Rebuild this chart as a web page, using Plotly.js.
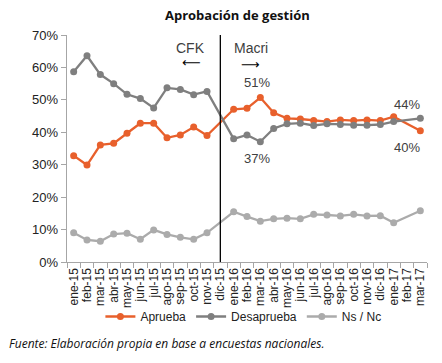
<!DOCTYPE html>
<html>
<head>
<meta charset="utf-8">
<script src="https://cdn.plot.ly/plotly-3.0.1.min.js"></script>
<style>html,body{margin:0;padding:0;background:#fff;}#chart{width:442px;height:363px;}</style>
</head>
<body>
<div id="chart"></div>
<script>
var categories = ["ene-15","feb-15","mar-15","abr-15","may-15","jun-15","jul-15","ago-15","sep-15","oct-15","nov-15","dic-15",
  "ene-16","feb-16","mar-16","abr-16","may-16","jun-16","jul-16","ago-16","sep-16","oct-16","nov-16","dic-16",
  "ene-17","feb-17","mar-17"];
var aprueba = [32.8,29.9,36.1,36.6,39.7,42.8,42.8,38.3,39.2,41.6,39.0,null,
  47.1,47.4,50.7,46.0,44.3,44.1,43.6,43.3,43.8,43.6,43.8,43.6,44.8,null,40.5];
var desaprueba = [58.7,63.6,57.8,55.0,51.7,50.4,47.5,53.7,53.2,51.6,52.6,null,
  38.0,39.2,37.1,41.2,42.6,42.8,42.1,42.6,42.4,42.2,42.2,42.4,43.3,null,44.3];
var nsnc = [9.0,6.8,6.4,8.6,8.9,7.0,9.9,8.5,7.6,7.0,9.0,null,
  15.5,14.0,12.6,13.3,13.5,13.3,14.7,14.5,14.2,14.7,14.2,14.3,12.1,null,15.8];
var yTickVals = [0,10,20,30,40,50,60,70];
var yTickText = ["0%","10%","20%","30%","40%","50%","60%","70%"];

function tr(name, y, color) {
  return {x: categories, y: y, name: name, type: 'scatter', mode: 'lines+markers',
    connectgaps: true, line: {color: color, width: 2.3}, marker: {color: color, size: 7}};
}
var data = [tr('Aprueba', aprueba, '#E8602C'), tr('Desaprueba', desaprueba, '#7F7F7F'), tr('Ns / Nc', nsnc, '#ABABAB')];

var txt = {family: 'Liberation Sans, Arial, sans-serif', size: 13, color: '#404040'};
function ann(px, py, text, font) {
  return {xref: 'paper', yref: 'paper', x: (px - 67) / 360, y: (262 - py) / 227, xanchor: 'center', yanchor: 'middle',
    text: text, showarrow: false, font: font};
}
var labFont = {family: 'Liberation Sans, Arial, sans-serif', size: 14, color: '#404040'};
var arrFont = {family: 'DejaVu Sans, sans-serif', size: 13, color: '#000'};
var layout = {
  width: 442, height: 363,
  margin: {l: 67, r: 15, t: 35, b: 101},
  paper_bgcolor: '#fff', plot_bgcolor: '#fff',
  showlegend: true,
  legend: {orientation: 'h', x: 0.49, xanchor: 'center', y: -0.24, yanchor: 'middle',
    bgcolor: 'rgba(0,0,0,0)',
    font: {family: 'Liberation Sans, Arial, sans-serif', size: 12, color: '#222'}, itemwidth: 30},
  title: {text: '<b>Aprobación de gestión</b>', x: 0.537, xanchor: 'center', y: 0.958, yanchor: 'middle',
    font: {family: 'Open Sans, sans-serif', size: 13, color: '#111'}},
  xaxis: {type: 'category', range: [-0.5, 26.5], showgrid: false, zeroline: false,
    tickmode: 'linear', tick0: 0, dtick: 1,
    showline: true, linecolor: '#A6A6A6', linewidth: 1.3,
    ticks: 'outside', tickson: 'boundaries', ticklen: 5, tickcolor: '#A6A6A6',
    tickangle: -90, tickfont: {family: 'Liberation Sans, Arial, sans-serif', size: 12, color: '#222'}},
  yaxis: {range: [0, 70], tickvals: yTickVals, ticktext: yTickText, showgrid: false, zeroline: false,
    showline: true, linecolor: '#A6A6A6', linewidth: 1.3, ticks: 'outside', ticklen: 5, tickcolor: '#A6A6A6',
    tickfont: {family: 'Liberation Sans, Arial, sans-serif', size: 13, color: '#222'}},
  shapes: [{type: 'line', xref: 'x', yref: 'y', x0: 11, x1: 11, y0: 0, y1: 70.6,
    line: {color: '#000', width: 1.3}}],
  annotations: [
    ann(190, 48, 'CFK', labFont),
    ann(191, 63, '⟵', arrFont),
    ann(251, 48, 'Macri', labFont),
    ann(250, 64, '⟶', arrFont),
    ann(257, 82, '51%', txt),
    ann(257, 158, '37%', txt),
    ann(407, 104, '44%', txt),
    ann(407, 147, '40%', txt),
    {xref: 'paper', yref: 'paper', x: (7-67)/360, xanchor: 'left', y: (262-343)/227, yanchor: 'middle',
      text: '<i>Fuente: Elaboración propia en base a encuestas nacionales.</i>', showarrow: false,
      font: {family: 'Open Sans, sans-serif', size: 12, color: '#111'}}
  ]
};
Plotly.newPlot('chart', data, layout, {displayModeBar: false, staticPlot: true});
</script>
</body>
</html>
